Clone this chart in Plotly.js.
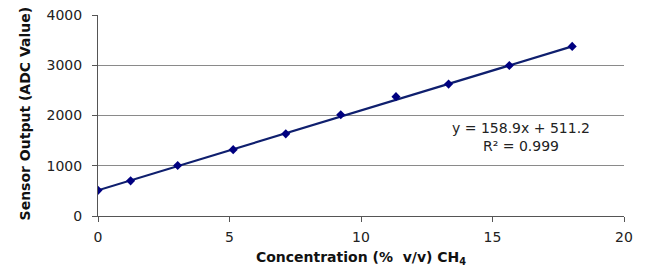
<!DOCTYPE html>
<html><head><meta charset="utf-8">
<script src="https://cdn.plot.ly/plotly-3.0.1.min.js"></script>
<style>html,body{margin:0;padding:0;background:#fff}#chart{width:647px;height:271px}</style>
</head><body><div id="chart"></div>
<script>
const concentration = [0, 1.24, 3.03, 5.14, 7.14, 9.23, 11.33, 13.33, 15.64, 18.03];
const adcValue = [510, 700, 1005, 1320, 1635, 2015, 2375, 2625, 2995, 3375];
const fitSlope = 158.9;
const fitIntercept = 511.2;
const fitLabel = 'y = 158.9x + 511.2<br>R² = 0.999';
const yTitle = '<b>Sensor Output (ADC Value)</b>';
const xTitle = '<b>Concentration (%  v/v) CH<sub>4</sub></b>';
const xTicks = [0, 5, 10, 15, 20];
const yTicks = [0, 1000, 2000, 3000, 4000];

const xMin = Math.min(...concentration), xMax = Math.max(...concentration);
const fitX = [xMin, xMax];
const fitY = fitX.map(x => fitSlope * x + fitIntercept);

const navy = '#0f1f6e';
const data = [
  {x: fitX, y: fitY, mode: 'lines', line: {color: navy, width: 2.2}, hoverinfo: 'skip'},
  {x: concentration, y: adcValue, mode: 'markers',
   marker: {symbol: 'diamond', size: 7, color: '#000080'}}
];
const fam = 'DejaVu Sans, Verdana, sans-serif';
const font = {family: fam, size: 14, color: '#222'};
const layout = {
  width: 647, height: 271, showlegend: false,
  margin: {l: 98, r: 23, t: 15, b: 55},
  paper_bgcolor: '#fff', plot_bgcolor: '#fff', font: font,
  xaxis: {range: [0, 20], tickvals: xTicks, ticks: 'outside', ticklen: 5, tickcolor: '#555',
    showline: true, linecolor: '#555', linewidth: 1, showgrid: false, zeroline: false,
    tickfont: {family: fam, size: 14, color: '#222'}, ticklabelstandoff: 3,
    title: {text: xTitle, font: {family: fam, size: 14, color: '#111'}, standoff: 8}},
  yaxis: {range: [0, 4000], tickvals: yTicks, ticks: 'outside', ticklen: 5, tickcolor: '#555',
    showline: true, linecolor: '#555', linewidth: 1, showgrid: true, gridcolor: '#8a8a8a', gridwidth: 1,
    zeroline: false, tickfont: {family: fam, size: 14, color: '#222'}, ticklabelstandoff: 7},
  annotations: [
    {x: 16.1, y: 1570, xref: 'x', yref: 'y', text: fitLabel, showarrow: false,
     font: {family: fam, size: 14, color: '#222'}, align: 'center'},
    {x: -0.137, y: 0.51, xref: 'paper', yref: 'paper', text: yTitle, textangle: -90, showarrow: false,
     xanchor: 'center', yanchor: 'middle', font: {family: fam, size: 14, color: '#111'}}
  ]
};
Plotly.newPlot('chart', data, layout, {displayModeBar: false, staticPlot: true});
</script></body></html>
